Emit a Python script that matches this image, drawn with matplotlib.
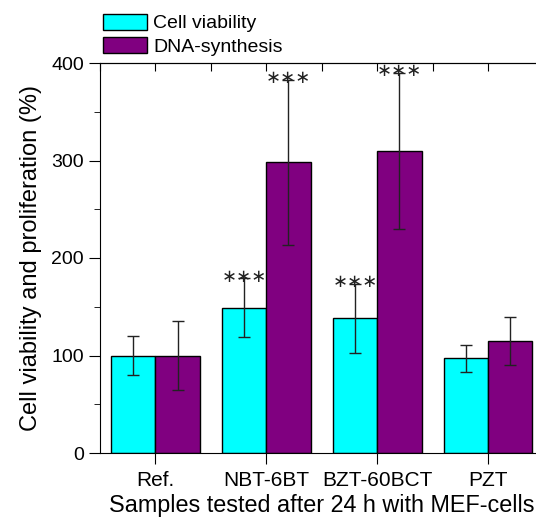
import numpy as np
import matplotlib.pyplot as plt
from matplotlib.ticker import MultipleLocator

plt.rcParams['font.family'] = ['Liberation Sans', 'DejaVu Sans']

samples = ['Ref.', 'NBT-6BT', 'BZT-60BCT', 'PZT']
viability = [100, 149, 138, 97]
viability_err = [20, 30, 35, 14]
dna = [100, 298, 310, 115]
dna_err = [35, 85, 80, 25]
viability_sig = ['', '***', '***', '']
dna_sig = ['', '***', '***', '']

fig = plt.figure(figsize=(5.36, 5.19), dpi=100)
ax = fig.add_axes([100/536, 66/519, 443.5/536, 390/519])

x = np.arange(len(samples))
w = 0.4
ekw = dict(ecolor='#222222', elinewidth=1, capsize=4, capthick=1)
b1 = ax.bar(x - w/2, viability, w, yerr=viability_err, color='#00ffff',
            edgecolor='black', linewidth=1, error_kw=ekw, label='Cell viability')
b2 = ax.bar(x + w/2, dna, w, yerr=dna_err, color='#800080',
            edgecolor='black', linewidth=1, error_kw=ekw, label='DNA-synthesis')

for xs, vals, errs, sig in [(x - w/2, viability, viability_err, viability_sig),
                            (x + w/2, dna, dna_err, dna_sig)]:
    for xi, v, e, s in zip(xs, vals, errs, sig):
        if s:
            ax.text(xi, v + e + 2, s.replace('*', '\u2217'),
                    ha='center', va='center', fontsize=13, color='#222222',
                    family='DejaVu Sans')

ax.set_xlim(-0.5, 3.5)
ax.set_ylim(0, 400)
ax.set_xticks(x)
ax.set_xticklabels(samples, fontsize=15)
ax.yaxis.set_major_locator(MultipleLocator(100))
ax.yaxis.set_minor_locator(MultipleLocator(50))
ax.tick_params(axis='y', which='major', direction='out', length=8, labelsize=14,
               right=True)
ax.tick_params(axis='y', which='minor', direction='out', length=4, right=True)
ax.tick_params(axis='x', which='major', direction='out', length=8, pad=5)

top = ax.secondary_xaxis('top')
top.set_xticks(np.arange(-0.5, 4.0, 0.5))
top.tick_params(direction='in', length=6, labeltop=False)

ax.set_ylabel('Cell viability and proliferation (%)', fontsize=17, labelpad=7)
ax.set_xlabel('Samples tested after 24 h with MEF-cells', fontsize=16.8, labelpad=3)

fig.legend(handles=[b1, b2], loc='upper left', bbox_to_anchor=(89/536, 1.0),
           frameon=False, fontsize=14, handlelength=2.3, handleheight=0.9,
           handletextpad=0.3, labelspacing=0.25, borderaxespad=0.3)

fig.savefig('out.png', dpi=100)
